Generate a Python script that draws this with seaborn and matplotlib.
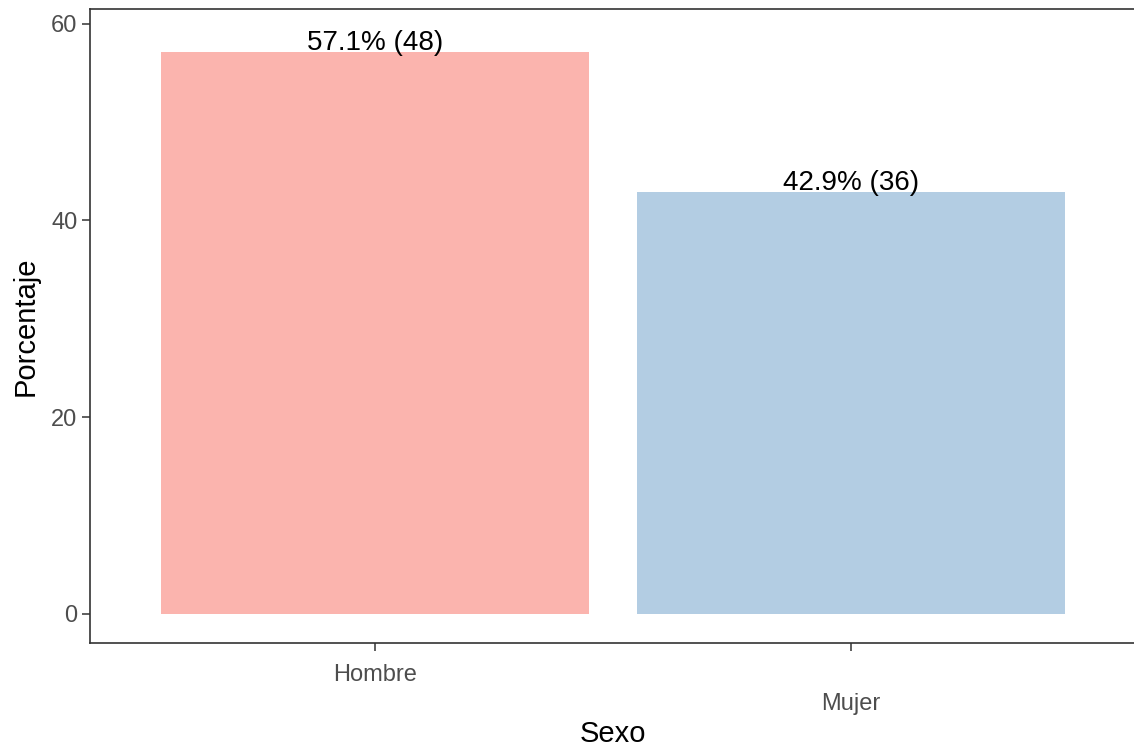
import matplotlib
matplotlib.use("Agg")
import matplotlib.pyplot as plt
import matplotlib.transforms as mtransforms
import seaborn as sns
import pandas as pd

# data
sexo = ["Hombre", "Mujer"]
porcentaje = [57.1, 42.9]
conteo = [48, 36]
colores = ["#FBB4AE", "#B3CDE3"]


def main():
    sns.set_style("white")
    plt.rcParams["font.family"] = ["Liberation Sans", "DejaVu Sans"]

    df = pd.DataFrame({"Sexo": sexo, "Porcentaje": porcentaje, "n": conteo})

    fig = plt.figure(figsize=(11.34, 7.51), dpi=100)
    ax = fig.add_axes([90 / 1134, 108 / 751, 1046 / 1134, 634 / 751])

    sns.barplot(data=df, x="Sexo", y="Porcentaje", hue="Sexo",
                palette=colores, width=0.9, legend=False, ax=ax,
                saturation=1, edgecolor="none")

    # labels above bars
    for i, row in df.iterrows():
        ax.text(i, row["Porcentaje"] + 0.25, f"{row['Porcentaje']:.1f}% ({row['n']})",
                ha="center", va="baseline", fontsize=20, color="black")

    ax.set_xlim(-0.6, 1.6)
    ax.set_ylim(-2.95, 61.5)
    ax.set_yticks([0, 20, 40, 60])

    for side in ["left", "top", "bottom", "right"]:
        ax.spines[side].set_visible(True)
        ax.spines[side].set_color("#333333")
        ax.spines[side].set_linewidth(1.2)

    ax.tick_params(axis="both", bottom=True, left=True, length=6, width=1.1,
                   color="#333333", labelcolor="#4D4D4D", labelsize=17, pad=3)
    ax.tick_params(axis="x", pad=9)

    # stagger the x tick labels (dodged like in the original)
    offset = mtransforms.ScaledTranslation(0, -0.29, fig.dpi_scale_trans)
    lbl = ax.get_xticklabels()[1]
    lbl.set_transform(lbl.get_transform() + offset)

    ax.set_xlabel("Sexo", fontsize=21, color="black")
    ax.xaxis.set_label_coords(0.5, -0.122)
    ax.set_ylabel("Porcentaje", fontsize=21, color="black")
    ax.yaxis.set_label_coords(-0.048, 0.5)

    fig.savefig("out.png", dpi=100)


if __name__ == "__main__":
    main()
